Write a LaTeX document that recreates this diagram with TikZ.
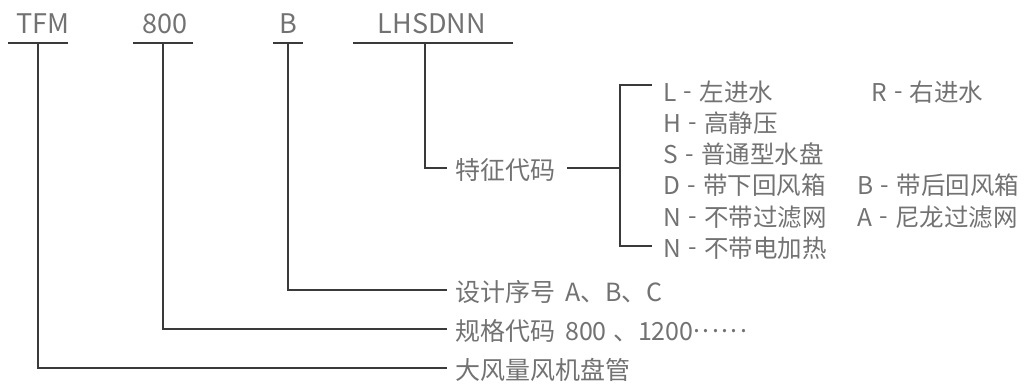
\documentclass[tikz,border=0pt]{standalone}
\usepackage{fontspec}
\setmainfont{Noto Sans CJK SC}
\definecolor{textgray}{HTML}{727272}
\definecolor{linegray}{HTML}{3A3A3A}
\newcommand{\dsh}{\hspace{0.3em}\raisebox{0.07em}{-}\hspace{0.3em}}
\newcommand{\mdots}{\raisebox{0.3em}{.\kern2.4pt.\kern2.4pt.\kern2.4pt.\kern2.4pt.\kern2.4pt.}}
\begin{document}
\begin{tikzpicture}[x=1pt,y=-1pt,
  txt/.style={inner sep=0pt, anchor=west, text=textgray, font=\fontsize{25}{25}\selectfont},
  item/.style={inner sep=0pt, anchor=west, text=textgray, font=\fontsize{24.5}{24.5}\selectfont},
  toplabel/.style={inner sep=0pt, anchor=base, text=textgray, font=\fontsize{27}{27}\selectfont},
  ln/.style={draw=linegray, line width=1.2pt}]
\useasboundingbox (0,0) rectangle (1031,383);
% top labels
\node[toplabel] (tfm) at (43,33) {TFM};
\node[toplabel] (n800) at (165,33) {800};
\node[toplabel] (nb) at (288,33) {B};
\node[toplabel] (lhs) at (432,33) {LHSDNN};
% underlines
\coordinate (u1l) at (8,43);   \coordinate (u1r) at (68,43);  \coordinate (v1) at (38,43);
\coordinate (u2l) at (133,43); \coordinate (u2r) at (193,43); \coordinate (v2) at (163,43);
\coordinate (u3l) at (273,43); \coordinate (u3r) at (303,43); \coordinate (v3) at (288,43);
\coordinate (u4l) at (353,43); \coordinate (u4r) at (513,43); \coordinate (v4) at (425,43);
\draw[ln] (u1l) -- (u1r); \draw[ln] (u2l) -- (u2r);
\draw[ln] (u3l) -- (u3r); \draw[ln] (u4l) -- (u4r);
% main texts
\node[txt] (tz) at (455,170) {特征代码};
\node[txt] (sj) at (455,292) {设计序号\hspace{0.4em}A、B、C};
\node[txt] (gg) at (455,331) {规格代码\hspace{0.4em}800\hspace{0.25em}、1200\mdots};
\node[txt] (df) at (455,370) {大风量风机盘管};
\draw[ln] (v4) |- ([xshift=-8pt,yshift=2pt]tz.west);
\draw[ln] (v3) |- ([xshift=-8pt,yshift=2pt]sj.west);
\draw[ln] (v2) |- ([xshift=-8pt,yshift=2pt]gg.west);
\draw[ln] (v1) |- ([xshift=-8pt,yshift=2pt]df.west);
% feature items
\node[item] (r1) at (663,92) {L\dsh 左进水};
\node[item] (r2) at (663,123.2) {H\dsh 高静压};
\node[item] (r3) at (663,154.4) {S\dsh 普通型水盘};
\node[item] (r4) at (663,185.6) {D\dsh 带下回风箱};
\node[item] (r5) at (663,216.8) {N\dsh 不带过滤网};
\node[item] (r6) at (663,248) {N\dsh 不带电加热};
\node[item] (s1) at (871,92) {R\dsh 右进水};
\node[item] (s4) at (857,185.6) {B\dsh 带后回风箱};
\node[item] (s5) at (857,216.8) {A\dsh 尼龙过滤网};
% bracket
\coordinate (bt) at (620,85);
\coordinate (bm) at (620,168);
\coordinate (bb) at (620,246);
\coordinate (be1) at (652,85);
\coordinate (be6) at (652,246);
\draw[ln] ([xshift=12pt,yshift=2pt]tz.east) -- (bm);
\draw[ln] (be1) -- (bt) -- (bb) -- (be6);
\end{tikzpicture}
\end{document}
